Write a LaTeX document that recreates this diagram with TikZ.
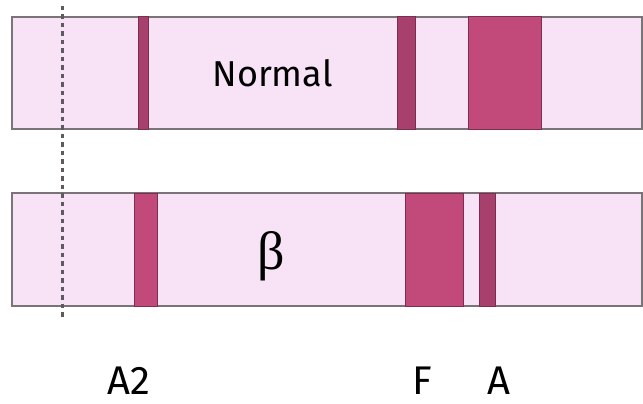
\documentclass[tikz,border=0pt]{standalone}
\usepackage{fontspec}
\setmainfont{Fira Sans}
\newfontfamily\grk{Liberation Serif}
\definecolor{stripfill}{HTML}{F8E3F6}
\definecolor{stripedge}{HTML}{7A7478}
\definecolor{bandfill}{HTML}{C24A7A}
\definecolor{bandthin}{HTML}{A8406E}
\definecolor{bandedge}{HTML}{7A2E50}
\definecolor{dashcol}{HTML}{5E5A5E}
\tikzset{
  strip/.style={fill=stripfill, draw=stripedge, line width=1.5pt},
  band/.style={fill=bandfill, draw=bandedge, line width=1pt},
  thinband/.style={fill=bandthin, draw=bandedge, line width=1pt},
  marker/.style={draw=dashcol, line width=3pt, dash pattern=on 4.5pt off 4pt},
  lbl/.style={inner sep=0pt, font=\fontsize{40}{44}\selectfont, anchor=base}
}
\begin{document}
\begin{tikzpicture}[x=1pt,y=-1pt]
\useasboundingbox (0,0) rectangle (643,404);
% top strip (Normal)
\draw[strip] (12,17) rectangle (642,129);
\draw[thinband] (138,17) rectangle (148,129);
\draw[thinband] (397,17) rectangle (415,129);
\draw[band] (468,17) rectangle (541,129);
% bottom strip (beta)
\draw[strip] (12,193) rectangle (642,306);
\draw[band] (134,193) rectangle (157,306);
\draw[band] (405,193) rectangle (463,306);
\draw[thinband] (479,193) rectangle (495,306);
% dashed origin line
\coordinate (dtop) at (62,6);
\coordinate (dbot) at (62,318);
\draw[marker] (dtop) -- (dbot);
% labels
\node[inner sep=0pt, anchor=base, font=\fontsize{36}{40}\selectfont] (normal) at (272.5,87) {Normal};
\node[inner sep=0pt, font=\fontsize{54}{60}\selectfont\grk] (beta) at (271.5,256) {β};
\node[lbl] (a2) at (129,394) {A2};
\node[lbl] (f) at (422.5,394) {F};
\node[lbl] (a) at (498.5,394) {A};
\end{tikzpicture}
\end{document}
